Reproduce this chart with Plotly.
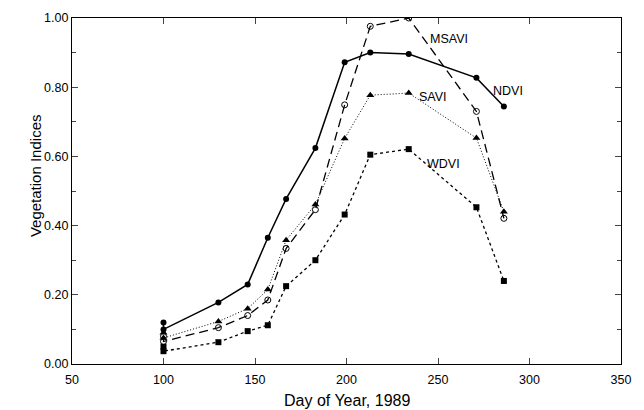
import plotly.graph_objects as go

days = [100, 100, 130, 146, 157, 167, 183, 199, 213, 234, 271, 286]
ndvi = [0.12, 0.10, 0.178, 0.23, 0.365, 0.477, 0.624, 0.872, 0.90, 0.896, 0.827, 0.744]
savi = [0.09, 0.075, 0.123, 0.16, 0.215, 0.358, 0.461, 0.652, 0.777, 0.783, 0.653, 0.44]
msavi = [0.08, 0.065, 0.105, 0.14, 0.185, 0.334, 0.446, 0.749, 0.976, 1.0, 0.73, 0.421]
wdvi = [0.05, 0.037, 0.063, 0.095, 0.112, 0.225, 0.30, 0.432, 0.605, 0.621, 0.453, 0.24]

labels = ["NDVI", "SAVI", "MSAVI", "WDVI"]
label_x = [288, 247, 256, 253]
label_y = [0.788, 0.772, 0.94, 0.578]

x_ticks = [50, 100, 150, 200, 250, 300, 350]
y_ticks = [0.0, 0.2, 0.4, 0.6, 0.8, 1.0]
y_ticklabels = ["0.00", "0.20", "0.40", "0.60", "0.80", "1.00"]

FONT = "Liberation Sans, Arial, sans-serif"
fig = go.Figure()
fig.add_trace(go.Scatter(x=days, y=ndvi, mode="lines+markers", name="NDVI",
                         line=dict(color="black", width=1.5, dash="solid"),
                         marker=dict(symbol="circle", size=6, color="black")))
fig.add_trace(go.Scatter(x=days, y=savi, mode="lines+markers", name="SAVI",
                         line=dict(color="black", width=1, dash="1px,2px"),
                         marker=dict(symbol="triangle-up", size=7, color="black")))
fig.add_trace(go.Scatter(x=days, y=msavi, mode="lines+markers", name="MSAVI",
                         line=dict(color="black", width=1.3, dash="9px,5px"),
                         marker=dict(symbol="circle-open", size=6, color="black", line=dict(width=1))))
fig.add_trace(go.Scatter(x=days, y=wdvi, mode="lines+markers", name="WDVI",
                         line=dict(color="black", width=1.3, dash="3px,3px"),
                         marker=dict(symbol="square", size=6, color="black")))

for t, xx, yy in zip(labels, label_x, label_y):
    fig.add_annotation(x=xx, y=yy, text=t, showarrow=False,
                       font=dict(family=FONT, size=12.5, color="black"))

# axis titles placed as annotations for exact positioning
fig.add_annotation(xref="paper", yref="paper", x=0, y=0.543, xshift=-37,
                   text="Vegetation Indices", textangle=-90, showarrow=False,
                   xanchor="center", yanchor="middle",
                   font=dict(family=FONT, size=15, color="black"))
fig.add_annotation(xref="paper", yref="paper", x=0.5, y=0, yshift=-36,
                   text="Day of Year, 1989", showarrow=False,
                   xanchor="center", yanchor="middle",
                   font=dict(family=FONT, size=16, color="black"))

fig.update_layout(
    width=644, height=410,
    margin=dict(l=72, r=23, t=18, b=46),
    paper_bgcolor="white", plot_bgcolor="white",
    showlegend=False,
    font=dict(family=FONT, color="black", size=12.5),
)
fig.update_xaxes(range=[50, 350], tickvals=x_ticks, ticks="inside", ticklen=6,
                 showline=True, linecolor="black", linewidth=1.3, mirror="ticks",
                 showgrid=False, zeroline=False, ticklabelstandoff=4,
                 tickfont=dict(size=12.5))
fig.update_yaxes(range=[0, 1.0], tickvals=y_ticks, ticktext=y_ticklabels, ticks="inside", ticklen=6,
                 minor=dict(dtick=0.1, ticks="inside", ticklen=4),
                 showline=True, linecolor="black", linewidth=1.3, mirror="ticks",
                 showgrid=False, zeroline=False,
                 tickfont=dict(size=12.5))

fig.write_html("out.html",
               config={"displayModeBar": False},
               post_script="document.body.style.margin='0';document.body.style.overflow='hidden';")
